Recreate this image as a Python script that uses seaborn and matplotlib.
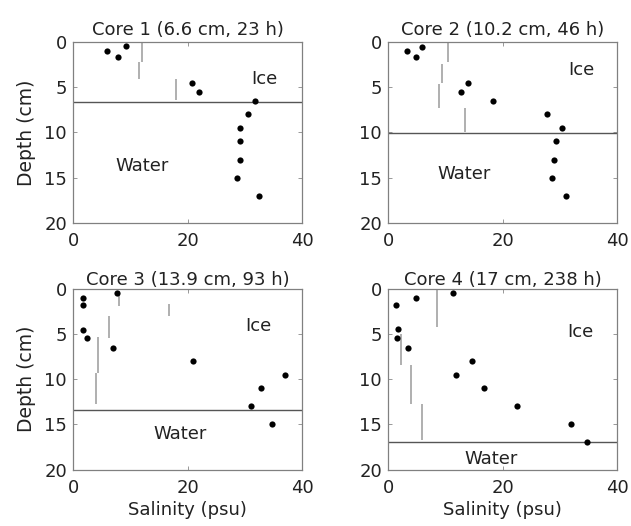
import numpy as np
import pandas as pd
import seaborn as sns
import matplotlib
matplotlib.use("Agg")
import matplotlib.pyplot as plt

# salinity (psu) and depth (cm) of the sampled points, one set per core
core1_sal = [6.0, 7.9, 9.2, 20.8, 22.0, 31.8, 30.5, 29.2, 29.2, 29.1, 28.6, 32.5]
core1_depth = [1.0, 1.7, 0.4, 4.5, 5.5, 6.5, 8.0, 9.5, 11.0, 13.0, 15.0, 17.0]
core2_sal = [3.3, 4.8, 6.0, 14.0, 12.8, 18.4, 27.7, 30.4, 29.3, 28.9, 28.6, 31.1]
core2_depth = [1.0, 1.7, 0.5, 4.5, 5.5, 6.5, 8.0, 9.5, 11.0, 13.0, 15.0, 17.0]
core3_sal = [1.8, 1.8, 1.8, 2.5, 7.6, 6.9, 21.0, 37.0, 32.9, 31.0, 34.8]
core3_depth = [1.0, 1.8, 4.6, 5.5, 0.5, 6.5, 8.0, 9.5, 11.0, 13.0, 15.0]
core4_sal = [1.4, 4.8, 11.3, 1.7, 1.5, 3.5, 14.7, 11.8, 16.7, 22.5, 31.9, 34.7]
core4_depth = [1.8, 1.0, 0.5, 4.5, 5.5, 6.5, 8.0, 9.5, 11.0, 13.0, 15.0, 17.0]

# bulk ice salinity segments: salinity, top depth, bottom depth
core1_seg_sal = [12.1, 11.5, 17.9]
core1_seg_top = [0.0, 2.2, 4.1]
core1_seg_bot = [2.2, 4.1, 6.4]
core2_seg_sal = [10.5, 9.5, 8.9, 13.4]
core2_seg_top = [0.0, 2.4, 4.6, 7.3]
core2_seg_bot = [2.2, 4.5, 7.3, 9.9]
core3_seg_sal = [8.1, 16.8, 6.3, 4.4, 4.1]
core3_seg_top = [0.2, 1.7, 3.0, 5.3, 9.3]
core3_seg_bot = [1.9, 3.0, 5.4, 9.3, 12.8]
core4_seg_sal = [8.5, 2.2, 4.0, 5.85]
core4_seg_top = [0.1, 5.0, 8.4, 12.7]
core4_seg_bot = [4.2, 8.4, 12.8, 16.7]

titles = ["Core 1 (6.6 cm, 23 h)", "Core 2 (10.2 cm, 46 h)",
          "Core 3 (13.9 cm, 93 h)", "Core 4 (17 cm, 238 h)"]
interface = [6.6, 10.1, 13.4, 17.0]
ice_label_pos = [(33.4, 4.1), (33.7, 3.1), (32.3, 4.1), (33.5, 4.8)]
water_label_pos = [(12.0, 13.7), (13.2, 14.6), (18.7, 16.1), (18.0, 18.8)]

points = [(core1_sal, core1_depth), (core2_sal, core2_depth),
          (core3_sal, core3_depth), (core4_sal, core4_depth)]
segments = [(core1_seg_sal, core1_seg_top, core1_seg_bot),
            (core2_seg_sal, core2_seg_top, core2_seg_bot),
            (core3_seg_sal, core3_seg_top, core3_seg_bot),
            (core4_seg_sal, core4_seg_top, core4_seg_bot)]

sns.set_theme(style="white")
plt.rcParams['font.family'] = ['DejaVu Sans']

fig, axes = plt.subplots(2, 2, figsize=(6.31, 5.26), dpi=100)
fig.subplots_adjust(left=0.1157, right=0.978, top=0.920, bottom=0.1074,
                    wspace=0.375, hspace=0.365)

for i, ax in enumerate(axes.flat):
    sal, depth = points[i]
    df = pd.DataFrame({"salinity": sal, "depth": depth})
    sns.scatterplot(data=df, x="salinity", y="depth", ax=ax, color="black",
                    s=20, edgecolor="black", linewidth=0, zorder=3)

    seg_sal, seg_top, seg_bot = segments[i]
    ax.vlines(seg_sal, seg_top, seg_bot, colors="#9a9a9a", linewidth=1.1, zorder=2)
    ax.axhline(interface[i], color="#555555", linewidth=1.0, zorder=1)

    ax.text(*ice_label_pos[i], "Ice", ha="center", va="center", fontsize=13,
            color="#222222")
    ax.text(*water_label_pos[i], "Water", ha="center", va="center", fontsize=13,
            color="#222222")

    ax.set_xlim(0, 40)
    ax.set_ylim(20, 0)
    ax.set_xticks([0, 20, 40])
    ax.set_yticks([0, 5, 10, 15, 20])
    ax.tick_params(direction="in", length=3, width=0.6, color="#888888",
                   labelsize=13, labelcolor="#222222", top=True, right=True,
                   bottom=True, left=True)
    ax.tick_params(axis="x", pad=6.5)
    ax.tick_params(axis="y", pad=4.3)
    for sp in ax.spines.values():
        sp.set_color("#808080")
        sp.set_linewidth(0.9)
    ax.set_title(titles[i], fontsize=13, color="#222222",
                 pad=5 if i < 2 else 2.5)

    ax.set_xlabel("Salinity (psu)" if i >= 2 else "", fontsize=13,
                  color="#222222", labelpad=3.5)
    ax.set_ylabel("Depth (cm)" if i % 2 == 0 else "", fontsize=13.5,
                  color="#222222", labelpad=6)

fig.savefig("out.png", dpi=100)
